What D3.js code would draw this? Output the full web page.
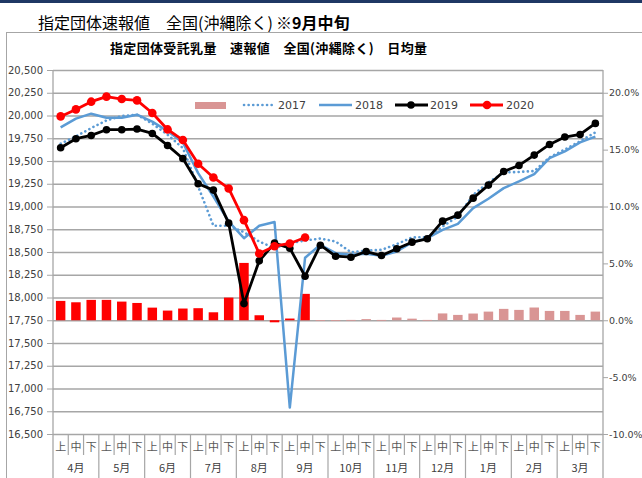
<!DOCTYPE html>
<html>
<head>
<meta charset="utf-8">
<script src="https://cdn.jsdelivr.net/npm/d3@7"></script>
<style>
  body { margin: 0; background: #fff; }
  svg text { font-family: "DejaVu Sans", sans-serif; }
  .jp { font-family: "Noto Sans CJK JP", sans-serif; }
</style>
</head>
<body>
<div id="chart"></div>
<script>
// 旬 labels and months
let months = ["4月", "5月", "6月", "7月", "8月", "9月", "10月", "11月", "12月", "1月", "2月", "3月"];
let jun = ["上", "中", "下"];
let periods = d3.range(36);

// daily average volume (t/day)
let y2017 = [19690, 19770, 19862, 19946, 19994, 20009, 19910, 19789, 19642, 19220, 18788, 18788,
  18718, 18615, 18542, 18597, 18626, 18648, 18615, 18498, 18516, 18524, 18586, 18660,
  18663, 18780, 18890, 19128, 19264, 19374, 19380, 19390, 19540, 19626, 19717, 19815];
let y2018 = [19869, 19965, 20020, 19976, 19976, 20009, 19932, 19829, 19704, 19367, 19110, 18835,
  18652, 18788, 18830, 16790, 18437, 18579, 18487, 18469, 18480, 18458, 18505, 18604,
  18652, 18744, 18810, 18982, 19085, 19202, 19275, 19356, 19532, 19605, 19704, 19767];
let y2019 = [19646, 19745, 19781, 19844, 19844, 19851, 19803, 19671, 19528, 19250, 19180, 18817,
  17933, 18403, 18597, 18542, 18234, 18575, 18454, 18443, 18505, 18461, 18535, 18608,
  18645, 18839, 18905, 19092, 19235, 19385, 19451, 19565, 19682, 19763, 19792, 19913];
let y2020 = [19990, 20067, 20152, 20207, 20181, 20166, 20027, 19847, 19730, 19470, 19319, 19198,
  18850, 18483, 18564, 18594, 18660];

// year-on-year change (%)
let yoy2020 = [1.70, 1.58, 1.79, 1.79, 1.64, 1.52, 1.11, 0.85, 1.03, 1.06, 0.70, 1.99,
  5.04, 0.44, -0.18, 0.15, 2.32];
let yoyPrev = [null, null, null, null, null, null, null, null, null, null, null, null,
  null, null, null, null, null, 0.02, 0.02, 0.03, 0.10, 0.03, 0.24, 0.14,
  0.03, 0.60, 0.47, 0.59, 0.76, 1.00, 0.91, 1.12, 0.82, 0.82, 0.47, 0.76];

let leftTicks = d3.range(16500, 20501, 250);
let rightTicks = [-10, -5, 0, 5, 10, 15, 20];

let svgWidth = 642, svgHeight = 478;
let plot = { left: 53, right: 603, top: 70, bottom: 434 };

let svg = d3.select("#chart").append("svg")
  .attr("width", svgWidth)
  .attr("height", svgHeight);

// top band + titles
svg.append("rect").attr("x", 0).attr("y", 0).attr("width", svgWidth).attr("height", 3).attr("fill", "#1f3864");

svg.append("text").attr("class", "jp")
  .attr("x", 38).attr("y", 29)
  .attr("font-size", "16px").attr("fill", "#000")
  .text("指定団体速報値　全国(沖縄除く)");
svg.append("text").attr("class", "jp")
  .attr("x", 276).attr("y", 29)
  .attr("font-size", "16px").attr("font-weight", "bold").attr("fill", "#000")
  .text("※9月中旬");

// chart frame
svg.append("rect")
  .attr("x", 6.5).attr("y", 32.5)
  .attr("width", 700).attr("height", 500)
  .attr("fill", "none").attr("stroke", "#a6a6a6");

svg.append("text").attr("class", "jp")
  .attr("x", 110).attr("y", 53)
  .attr("font-size", "13px").attr("font-weight", "bold").attr("fill", "#000")
  .attr("textLength", 317).attr("lengthAdjust", "spacing")
  .text("指定団体受託乳量　速報値　全国(沖縄除く)　日均量");

// scales
let x = d3.scaleBand().domain(periods).range([plot.left, plot.right]).paddingInner(0.38).paddingOuter(0.19);
let xb = d3.scaleLinear().domain([0, 36]).range([plot.left, plot.right]);
let cx = i => xb(i + 0.5);
let yL = d3.scaleLinear().domain([16500, 20500]).range([plot.bottom, plot.top]);
let yR = d3.scaleLinear().domain([-10, 22]).range([plot.bottom, plot.top]);

// gridlines
svg.append("g")
  .attr("transform", `translate(${plot.left},0)`)
  .call(d3.axisLeft(yL).tickValues(leftTicks).tickSize(-(plot.right - plot.left)).tickFormat(""))
  .call(g => g.select(".domain").remove())
  .call(g => g.selectAll("line").attr("stroke", "#a6a6a6").attr("stroke-width", 1.3));

// left axis
svg.append("g")
  .attr("transform", `translate(${plot.left},0)`)
  .call(d3.axisLeft(yL).tickValues(leftTicks).tickSize(6).tickPadding(4).tickFormat(d3.format(",")))
  .call(g => g.select(".domain").remove())
  .call(g => g.selectAll("line").attr("stroke", "#a6a6a6"))
  .call(g => g.selectAll("text").attr("font-size", "10px").attr("fill", "#404040").attr("font-family", "DejaVu Sans"));

// right axis
svg.append("g")
  .attr("transform", `translate(${plot.right},0)`)
  .call(d3.axisRight(yR).tickValues(rightTicks).tickSize(5).tickPadding(1).tickFormat(d => d.toFixed(1) + "%"))
  .call(g => g.select(".domain").remove())
  .call(g => g.selectAll("line").attr("stroke", "#a6a6a6"))
  .call(g => g.selectAll("text").attr("font-size", "9.5px").attr("fill", "#404040").attr("font-family", "Liberation Sans"));

// axis lines (extend through category area)
svg.append("line").attr("x1", plot.left).attr("x2", plot.left).attr("y1", plot.top).attr("y2", 478)
  .attr("stroke", "#a6a6a6").attr("stroke-width", 1.3);
svg.append("line").attr("x1", plot.right).attr("x2", plot.right).attr("y1", plot.top).attr("y2", 478)
  .attr("stroke", "#a6a6a6").attr("stroke-width", 1.3);

// category axis: 旬 separators and labels
svg.append("g").selectAll("line").data(d3.range(1, 36)).join("line")
  .attr("x1", d => xb(d)).attr("x2", d => xb(d))
  .attr("y1", plot.bottom).attr("y2", d => d % 3 === 0 ? 478 : 455)
  .attr("stroke", "#a6a6a6").attr("stroke-width", 1.2);

svg.append("g").selectAll("text").data(periods).join("text")
  .attr("class", "jp")
  .attr("x", d => cx(d)).attr("y", 451)
  .attr("text-anchor", "middle")
  .attr("font-size", "11px").attr("fill", "#595959")
  .text(d => jun[d % 3]);

svg.append("g").selectAll("text").data(months).join("text")
  .attr("class", "jp")
  .attr("x", (d, i) => xb(i * 3 + 1.5)).attr("y", 472)
  .attr("text-anchor", "middle")
  .attr("font-size", "11px").attr("fill", "#404040")
  .text(d => d);

// bars
svg.append("g").selectAll("rect").data(yoyPrev.map((v, i) => ({ i, v })).filter(d => d.v !== null)).join("rect")
  .attr("x", d => x(d.i)).attr("width", x.bandwidth())
  .attr("y", d => Math.min(yR(d.v), yR(0)))
  .attr("height", d => Math.max(Math.abs(yR(d.v) - yR(0)), 0.8))
  .attr("fill", "#d99594");

svg.append("g").selectAll("rect").data(yoy2020.map((v, i) => ({ i, v }))).join("rect")
  .attr("x", d => x(d.i)).attr("width", x.bandwidth())
  .attr("y", d => Math.min(yR(d.v), yR(0)))
  .attr("height", d => Math.abs(yR(d.v) - yR(0)))
  .attr("fill", "#ff0000");

// lines
let line = d3.line().x((d, i) => cx(i)).y(d => yL(d));

svg.append("path").datum(y2017)
  .attr("d", line).attr("fill", "none")
  .attr("stroke", "#5b9bd5").attr("stroke-width", 2.6)
  .attr("stroke-dasharray", "0.1 4.5").attr("stroke-linecap", "round");

svg.append("path").datum(y2018)
  .attr("d", line).attr("fill", "none")
  .attr("stroke", "#5b9bd5").attr("stroke-width", 2.5).attr("stroke-linejoin", "round");

svg.append("path").datum(y2019)
  .attr("d", line).attr("fill", "none")
  .attr("stroke", "#000").attr("stroke-width", 2.8).attr("stroke-linejoin", "round");
svg.append("g").selectAll("circle").data(y2019).join("circle")
  .attr("cx", (d, i) => cx(i)).attr("cy", d => yL(d)).attr("r", 3.8).attr("fill", "#000");

svg.append("path").datum(y2020)
  .attr("d", line).attr("fill", "none")
  .attr("stroke", "#ff0000").attr("stroke-width", 2.8).attr("stroke-linejoin", "round");
svg.append("g").selectAll("circle").data(y2020).join("circle")
  .attr("cx", (d, i) => cx(i)).attr("cy", d => yL(d)).attr("r", 4.3).attr("fill", "#ff0000");

// legend
let lg = svg.append("g").attr("font-size", "11px").attr("fill", "#404040");
let ly = 105;
lg.append("rect").attr("x", 195).attr("y", ly - 3).attr("width", 31).attr("height", 7).attr("fill", "#d99594");

lg.append("line").attr("x1", 244).attr("x2", 275).attr("y1", ly).attr("y2", ly)
  .attr("stroke", "#5b9bd5").attr("stroke-width", 2.6).attr("stroke-dasharray", "0.1 4.5").attr("stroke-linecap", "round");
lg.append("text").attr("x", 278).attr("y", ly + 4).attr("fill", "#404040").text("2017");

lg.append("line").attr("x1", 319).attr("x2", 352).attr("y1", ly).attr("y2", ly)
  .attr("stroke", "#5b9bd5").attr("stroke-width", 2.5);
lg.append("text").attr("x", 355).attr("y", ly + 4).attr("fill", "#404040").text("2018");

lg.append("line").attr("x1", 395).attr("x2", 428).attr("y1", ly).attr("y2", ly)
  .attr("stroke", "#000").attr("stroke-width", 2.8);
lg.append("circle").attr("cx", 411).attr("cy", ly).attr("r", 3.8).attr("fill", "#000");
lg.append("text").attr("x", 430).attr("y", ly + 4).attr("fill", "#404040").text("2019");

lg.append("line").attr("x1", 470).attr("x2", 503).attr("y1", ly).attr("y2", ly)
  .attr("stroke", "#ff0000").attr("stroke-width", 2.8);
lg.append("circle").attr("cx", 487).attr("cy", ly).attr("r", 4.3).attr("fill", "#ff0000");
lg.append("text").attr("x", 506).attr("y", ly + 4).attr("fill", "#404040").text("2020");
</script>
</body>
</html>
